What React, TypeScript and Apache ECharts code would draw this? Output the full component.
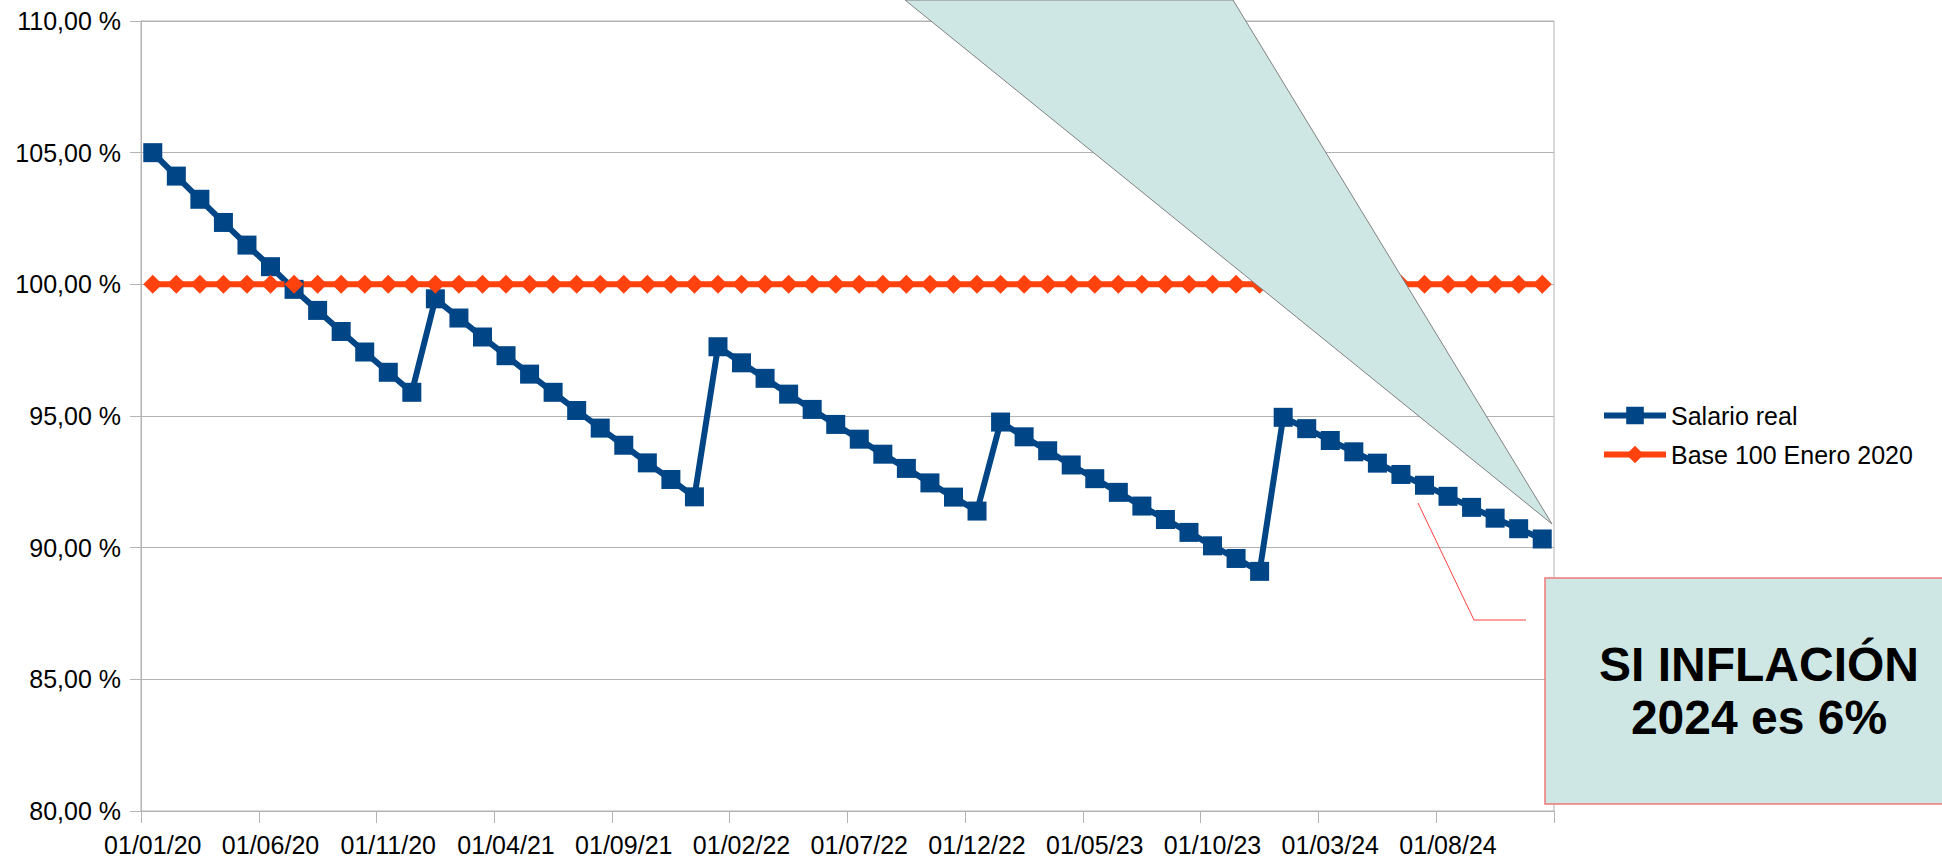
import React, { useEffect, useRef } from "react";
import * as echarts from "echarts";

const months = ["01","02","03","04","05","06","07","08","09","10","11","12"];
const years = ["20","21","22","23","24"];
const categories: string[] = [];
years.forEach((y) => months.forEach((m) => categories.push(`01/${m}/${y}`)));

const salarioReal = [
  105.0, 104.11, 103.23, 102.35, 101.49, 100.67, 99.81, 99.01, 98.21, 97.43, 96.66, 95.9,
  99.45, 98.72, 98.0, 97.29, 96.59, 95.9, 95.21, 94.54, 93.89, 93.22, 92.59, 91.93,
  97.63, 97.02, 96.43, 95.83, 95.25, 94.68, 94.12, 93.55, 93.01, 92.46, 91.92, 91.39,
  94.77, 94.21, 93.68, 93.14, 92.62, 92.1, 91.58, 91.07, 90.58, 90.07, 89.59, 89.1,
  94.95, 94.52, 94.07, 93.64, 93.21, 92.78, 92.37, 91.95, 91.53, 91.12, 90.72, 90.33,
];

const base100 = [
  100, 100, 100, 100, 100, 100, 100, 100, 100, 100, 100, 100,
  100, 100, 100, 100, 100, 100, 100, 100, 100, 100, 100, 100,
  100, 100, 100, 100, 100, 100, 100, 100, 100, 100, 100, 100,
  100, 100, 100, 100, 100, 100, 100, 100, 100, 100, 100, 100,
  100, 100, 100, 100, 100, 100, 100, 100, 100, 100, 100, 100,
];

const seriesNames = ["Salario real", "Base 100 Enero 2020"];
const annotationLines = ["SI INFLACIÓN", "2024 es 6%"];

const FONT = '"Liberation Sans", Arial, sans-serif';

export default function App() {
  const ref = useRef<HTMLDivElement>(null);
  useEffect(() => {
    if (!ref.current) return;
    const chart = echarts.init(ref.current, undefined, { renderer: "svg" });
    chart.setOption({
      animation: false,
      backgroundColor: "#ffffff",
      textStyle: { fontFamily: FONT },
      grid: {
        left: 141,
        top: 21,
        width: 1413,
        height: 790,
        show: true,
        borderColor: "#b3b3b3",
        borderWidth: 1,
        backgroundColor: "transparent",
      },
      legend: {
        orient: "vertical",
        left: 1596,
        top: 398,
        itemWidth: 62,
        itemHeight: 22,
        itemGap: 14,
        lineStyle: { width: 6 },
        textStyle: { fontSize: 25, color: "#000", fontFamily: FONT, lineHeight: 25 },
        data: seriesNames,
      },
      xAxis: {
        type: "category",
        data: categories,
        boundaryGap: true,
        axisLine: { lineStyle: { color: "#b3b3b3", width: 1 } },
        axisTick: { show: true, interval: 4, length: 12, lineStyle: { color: "#b3b3b3" } },
        axisLabel: { interval: 4, fontSize: 25, color: "#000", margin: 21, fontFamily: FONT },
        splitLine: { show: false },
      },
      yAxis: {
        type: "value",
        min: 80,
        max: 110,
        interval: 5,
        axisLine: { show: true, lineStyle: { color: "#b3b3b3", width: 1 } },
        axisTick: { show: true, length: 11, lineStyle: { color: "#b3b3b3" } },
        axisLabel: {
          fontSize: 25,
          color: "#000",
          margin: 20,
          fontFamily: FONT,
          formatter: (v: number) => v.toFixed(2).replace(".", ",") + " %",
        },
        splitLine: { show: true, lineStyle: { color: "#b3b3b3", width: 1 } },
      },
      series: [
        {
          name: seriesNames[0],
          type: "line",
          data: salarioReal,
          symbol: "rect",
          symbolSize: 19,
          showAllSymbol: true,
          color: "#004586",
          lineStyle: { color: "#004586", width: 6 },
          itemStyle: { color: "#004586" },
        },
        {
          name: seriesNames[1],
          type: "line",
          data: base100,
          symbol: "diamond",
          symbolSize: 19,
          showAllSymbol: true,
          color: "#ff420e",
          lineStyle: { color: "#ff420e", width: 6 },
          itemStyle: { color: "#ff420e" },
        },
      ],
      graphic: [
        {
          type: "polygon",
          z: 100,
          shape: { points: [[905, 0], [1233, 0], [1552, 524]] },
          style: { fill: "#cfe7e4", stroke: "#808080", lineWidth: 1 },
        },
        {
          type: "polyline",
          z: 100,
          shape: { points: [[1418, 503], [1474, 620], [1526, 620]] },
          style: { stroke: "#ff4040", lineWidth: 1, fill: "none" },
        },
        {
          type: "rect",
          z: 100,
          shape: { x: 1545, y: 578, width: 420, height: 226 },
          style: { fill: "#cfe7e4", stroke: "#f07878", lineWidth: 1.5 },
        },
        {
          type: "text",
          z: 101,
          x: 1759,
          y: 691,
          style: {
            text: annotationLines.join("\n"),
            fill: "#000",
            font: `bold 48px ${FONT}`,
            lineHeight: 53,
            align: "center",
            verticalAlign: "middle",
          },
        },
      ],
    });
    return () => chart.dispose();
  }, []);
  return (
    <div
      ref={ref}
      style={{ position: "absolute", left: 0, top: 0, width: 1942, height: 857 }}
    />
  );
}
